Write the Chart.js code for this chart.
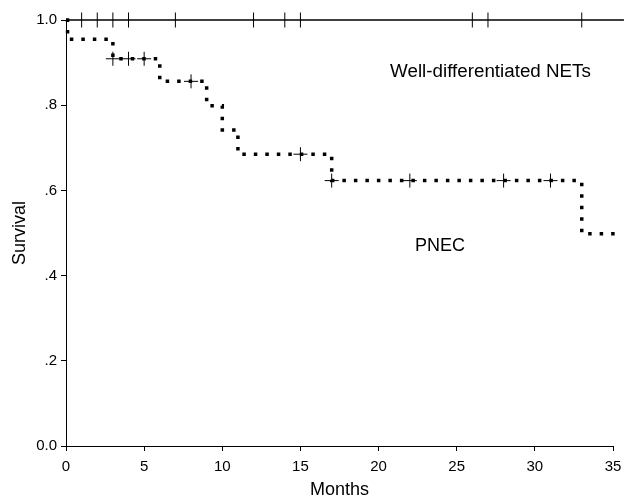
<!DOCTYPE html>
<html>
<head>
<meta charset="utf-8">
<script src="https://cdn.jsdelivr.net/npm/chart.js@4/dist/chart.umd.min.js"></script>
<style>
  html, body { margin: 0; padding: 0; background: #fff; }
  #wrap { width: 624px; height: 499px; }
</style>
</head>
<body>
<div id="wrap"><canvas id="km" width="624" height="499"></canvas></div>
<script>
// PNEC: survival after each event (step drops)
const pnecTimes = [0, 0.1, 3, 6, 9, 10, 11, 17, 33, 35.5];
const pnecSurv  = [1, 0.955, 0.909, 0.856, 0.799, 0.742, 0.685, 0.623, 0.498, 0.498];

// PNEC censored cases
const pnecCensTimes = [3, 4, 5, 8, 15, 17, 22, 28, 31];
const pnecCensSurv  = [0.909, 0.909, 0.909, 0.856, 0.685, 0.623, 0.623, 0.623, 0.623];

// Well-differentiated NETs: no events, survival stays at 1.0
const wellTimes = [0, 35.7];
const wellSurv  = [1, 1];
const wellCensTimes = [1, 2, 3, 4, 7, 12, 14, 15, 26, 27, 33];

// axis ticks
const xTickLabels = ['0', '5', '10', '15', '20', '25', '30', '35'];
const yTickLabels = ['0.0', '.2', '.4', '.6', '.8', '1.0'];

const FONT = "'Liberation Sans', Arial, sans-serif";

function toPoints(xs, ys) {
  return xs.map((x, i) => ({ x: x, y: ys[i] }));
}

// text labels for the two groups
const groupLabels = {
  id: 'groupLabels',
  afterDatasetsDraw(chart) {
    const { ctx, scales } = chart;
    ctx.save();
    ctx.fillStyle = '#000';
    ctx.textAlign = 'center';
    ctx.textBaseline = 'alphabetic';
    ctx.font = '18.8px ' + FONT;
    ctx.fillText('Well-differentiated NETs', scales.x.getPixelForValue(27.16), scales.y.getPixelForValue(0.866));
    ctx.font = '18px ' + FONT;
    ctx.fillText('PNEC', scales.x.getPixelForValue(23.93), scales.y.getPixelForValue(0.458));
    ctx.restore();
  }
};

const chart = new Chart(document.getElementById('km'), {
  type: 'scatter',
  data: {
    datasets: [
      {
        label: 'Well-differentiated NETs',
        data: toPoints(wellTimes, wellSurv),
        showLine: true,
        borderColor: '#000',
        borderWidth: 1.3,
        pointRadius: 0,
        clip: false,
      },
      {
        label: 'Well censored',
        data: wellCensTimes.map((t) => ({ x: t, y: 1 })),
        showLine: false,
        pointStyle: 'line',
        rotation: 90,
        pointRadius: 7.5,
        borderColor: '#000',
        borderWidth: 1,
        clip: false,
      },
      {
        label: 'PNEC',
        data: toPoints(pnecTimes, pnecSurv),
        showLine: true,
        stepped: 'before',
        borderColor: '#000',
        borderWidth: 3.5,
        borderDash: [3.5, 8],
        borderCapStyle: 'butt',
        pointRadius: 0,
        clip: false,
      },
      {
        label: 'PNEC censored',
        data: toPoints(pnecCensTimes, pnecCensSurv),
        showLine: false,
        pointStyle: 'cross',
        pointRadius: 7,
        borderColor: '#000',
        borderWidth: 1,
        clip: false,
      },
    ],
  },
  options: {
    responsive: false,
    animation: false,
    events: [],
    layout: { padding: { top: 20, right: 11, left: 0, bottom: 0 } },
    plugins: {
      legend: { display: false },
      tooltip: { enabled: false },
    },
    scales: {
      x: {
        type: 'linear',
        min: 0,
        max: 35,
        afterFit(scale) {
          scale.height = 53;
          scale.paddingLeft = 0;
          scale.paddingRight = 0;
        },
        border: { display: true, color: '#000', width: 1 },
        grid: { display: true, drawOnChartArea: false, drawTicks: true, tickLength: 5, color: '#000' },
        ticks: {
          stepSize: 5,
          color: '#000',
          font: { family: FONT, size: 15 },
          padding: 7,
          maxRotation: 0,
          callback: (v, i) => xTickLabels[i],
        },
        title: {
          display: true,
          text: 'Months',
          color: '#000',
          font: { family: FONT, size: 18, lineHeight: 1 },
          padding: { top: 0, bottom: 0 },
        },
      },
      y: {
        type: 'linear',
        min: 0,
        max: 1,
        afterFit(scale) { scale.width = 66; },
        border: { display: true, color: '#000', width: 1 },
        grid: { display: true, drawOnChartArea: false, drawTicks: true, tickLength: 5, color: '#000' },
        ticks: {
          stepSize: 0.2,
          color: '#000',
          font: { family: FONT, size: 15 },
          padding: 4,
          callback: (v, i) => yTickLabels[i],
        },
        title: {
          display: true,
          text: 'Survival',
          color: '#000',
          font: { family: FONT, size: 18, lineHeight: 1 },
          padding: { top: 11, bottom: 0 },
        },
      },
    },
  },
  plugins: [groupLabels],
});
</script>
</body>
</html>
